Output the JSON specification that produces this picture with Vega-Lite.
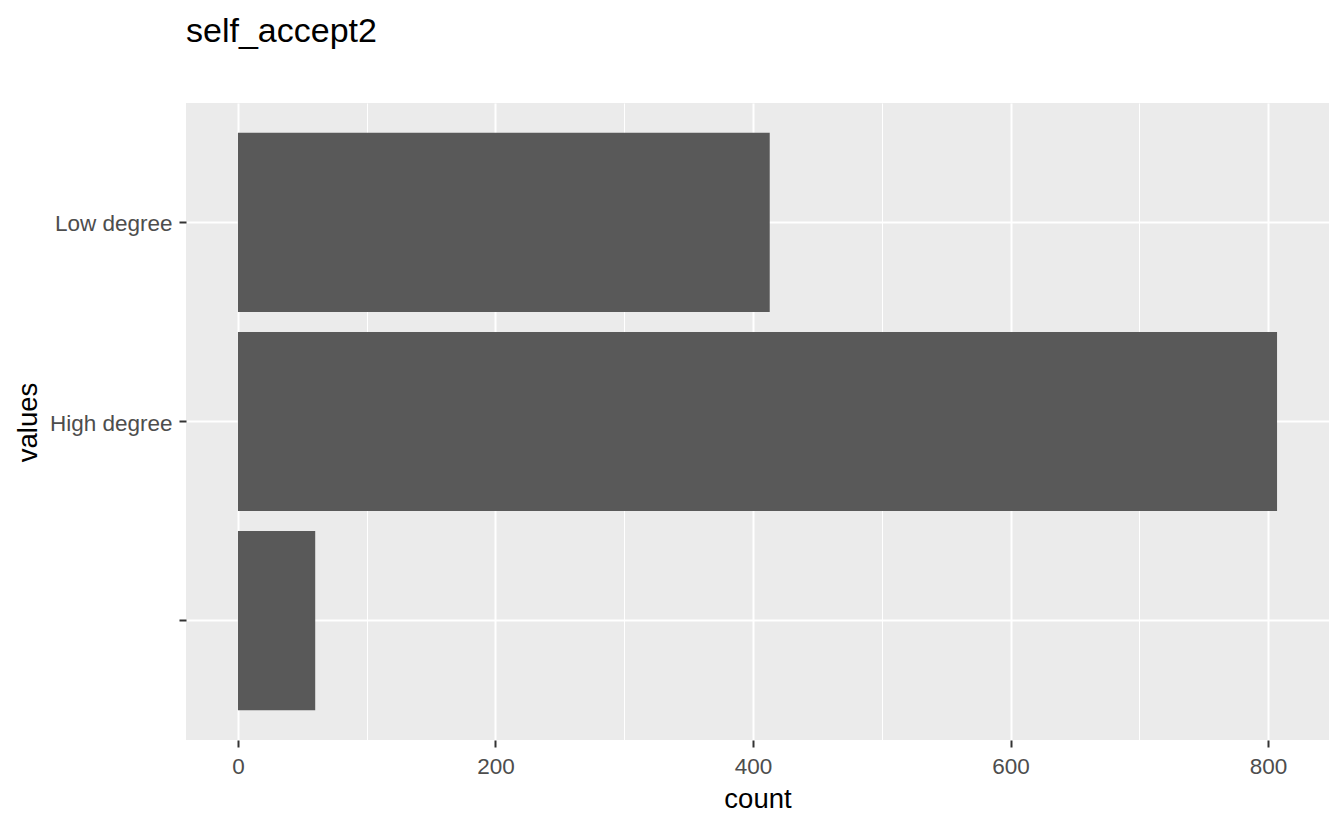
{
  "$schema": "https://vega.github.io/schema/vega-lite/v6.json",
  "width": 1143,
  "height": 637,
  "autosize": "none",
  "padding": {"left": 186, "top": 103, "right": 15, "bottom": 87},
  "background": "white",
  "title": {
    "text": "self_accept2",
    "anchor": "start",
    "frame": "group",
    "font": "Liberation Sans",
    "fontSize": 34,
    "fontWeight": "normal",
    "color": "black",
    "baseline": "alphabetic",
    "offset": 27
  },
  "data": {
    "values": [
      {"values": "Low degree", "count": 413},
      {"values": "High degree", "count": 807},
      {"values": "", "count": 60}
    ]
  },
  "mark": {"type": "bar", "color": "#595959"},
  "encoding": {
    "y": {
      "field": "values",
      "type": "nominal",
      "sort": "descending",
      "scale": {"paddingInner": 0.1, "paddingOuter": 0.15},
      "axis": {
        "domain": false,
        "bandPosition": 0.5,
        "ticks": true,
        "tickColor": "#333333",
        "tickWidth": 2,
        "tickSize": 7,
        "labelPadding": 7,
        "labelFont": "Liberation Sans",
        "labelFontSize": 22.5,
        "labelColor": "#4D4D4D",
        "labelBaseline": "middle",
        "labelOffset": 2,
        "grid": true,
        "gridColor": "white",
        "gridWidth": 2,
        "title": "values",
        "titleFont": "Liberation Sans",
        "titleFontSize": 27.5,
        "titleFontWeight": "normal",
        "titleColor": "black",
        "titleAngle": 270,
        "titleBaseline": "alphabetic",
        "titleAlign": "center",
        "titleX": -150,
        "titleY": 319
      }
    },
    "x": {
      "field": "count",
      "type": "quantitative",
      "scale": {"domain": [-40.35, 847.35], "nice": false, "zero": false},
      "axis": {
        "values": [0, 100, 200, 300, 400, 500, 600, 700, 800],
        "labelExpr": "datum.value % 200 === 0 ? datum.label : ''",
        "domain": false,
        "tickColor": "#333333",
        "tickWidth": 2,
        "tickSize": 7,
        "tickOpacity": {"condition": {"test": "datum.value % 200 === 0", "value": 1}, "value": 0},
        "labelPadding": 8,
        "labelFont": "Liberation Sans",
        "labelFontSize": 22.5,
        "labelColor": "#4D4D4D",
        "labelBaseline": "top",
        "grid": true,
        "gridColor": "white",
        "gridWidth": {"condition": {"test": "datum.value % 200 === 0", "value": 2}, "value": 1},
        "title": "count",
        "titleFont": "Liberation Sans",
        "titleFontSize": 27.5,
        "titleFontWeight": "normal",
        "titleColor": "black",
        "titleBaseline": "alphabetic",
        "titleAlign": "center",
        "titleY": 67,
        "titleX": 571.5
      }
    },
    "x2": {"datum": 0}
  },
  "config": {"view": {"fill": "#EBEBEB", "stroke": null}}
}
